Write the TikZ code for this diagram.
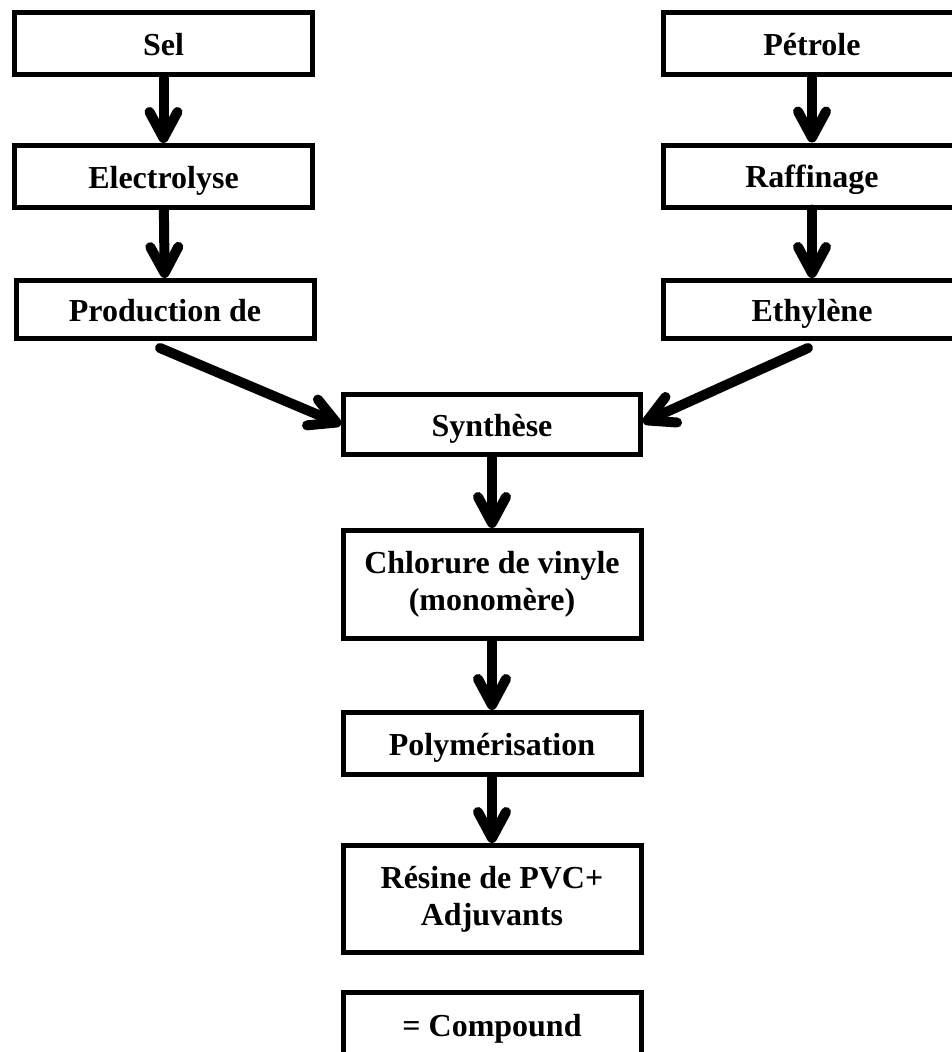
\documentclass[tikz,border=0pt]{standalone}
\usepackage{fontspec}
\setmainfont{Liberation Serif}
\usetikzlibrary{arrows.meta}
\tikzset{
  box/.style={draw, line width=5pt, minimum width=298pt, inner sep=0pt, align=center,
    font=\bfseries\fontsize{32}{37}\selectfont, fill=white},
  oneline/.style={text height=28pt, text depth=5pt},
  flow/.style={line width=10pt, line cap=round, -{Straight Barb[length=26pt,width=28pt,round]}},
}
\begin{document}
\begin{tikzpicture}[x=1pt,y=-1pt]
\useasboundingbox (0,0) rectangle (952,1052);
\clip (0,0) rectangle (952,1052);
\node[box, oneline, minimum height=62pt] (sel) at (163.5,43.5) {Sel};
\node[box, oneline, minimum height=62pt] (elec) at (163.5,176.5) {Electrolyse};
\node[box, oneline, minimum height=58pt] (prod) at (165,309.5) {Production de};
\node[box, oneline, minimum height=62pt] (pet) at (812,43.5) {Pétrole};
\node[box, oneline, minimum height=62pt] (raf) at (812,176) {Raffinage};
\node[box, oneline, minimum height=58pt] (eth) at (812,309.5) {Ethylène};
\node[box, oneline, minimum height=60pt, minimum width=297pt] (syn) at (492,424.5) {Synthèse};
\node[box, minimum height=108pt] (chl) at (492,584.5) {Chlorure de vinyle\\(monomère)};
\node[box, oneline, minimum height=62pt] (poly) at (492,743.5) {Polymérisation};
\node[box, minimum height=107pt] (res) at (492,899) {Résine de PVC+\\Adjuvants};
\node[box, oneline, minimum height=66pt] (comp) at (492,1025) {= Compound};
\draw[flow] (sel) -- (elec);
\draw[flow] (elec) -- (prod);
\draw[flow] (pet) -- (raf);
\draw[flow] (raf) -- (eth);
\draw[flow] ([shift={(-5,7)}]prod.south) -- (syn.west);
\draw[flow] ([shift={(-4,7)}]eth.south) -- ([yshift=2]syn.east);
\draw[flow] (syn) -- (chl);
\draw[flow] (chl) -- (poly);
\draw[flow] (poly) -- (res);
\end{tikzpicture}
\end{document}
